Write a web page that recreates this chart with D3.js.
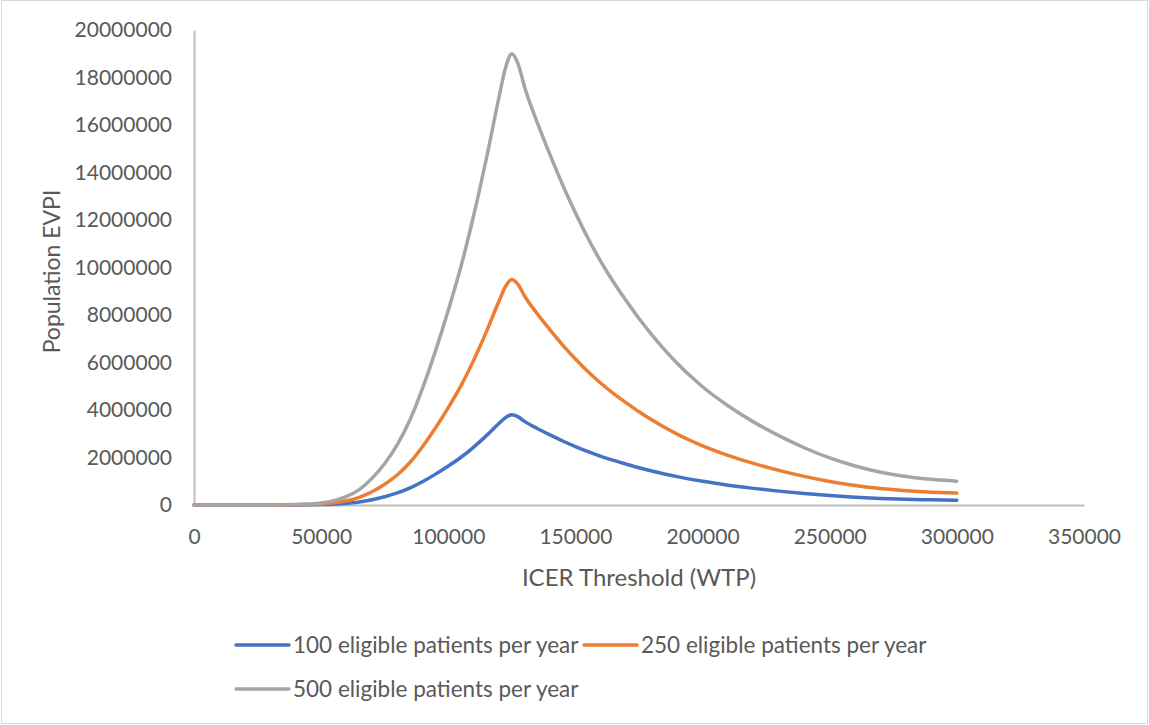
<!DOCTYPE html>
<html>
<head>
<meta charset="utf-8">
<script src="https://cdn.jsdelivr.net/npm/d3@7/dist/d3.min.js"></script>
<style>
  html, body { margin: 0; padding: 0; background: #fff; }
  svg { display: block; }
  text { font-family: Lato, "Open Sans", sans-serif; fill: #595959; }
</style>
</head>
<body>
<svg id="chart" width="1149" height="725"></svg>
<script>
// ---- Data ----
const wtp = [0,5000,10000,15000,20000,25000,30000,35000,40000,45000,50000,55000,60000,65000,70000,75000,80000,85000,90000,95000,100000,105000,110000,115000,120000,122500,125000,127500,130000,135000,140000,145000,150000,155000,160000,165000,170000,175000,180000,185000,190000,195000,200000,210000,220000,230000,240000,250000,260000,270000,280000,290000,300000];

const evpi100 = [0,0,0,0,0,400,1000,2000,4000,8000,16000,36000,72000,130000,224000,350000,510000,720000,990000,1300000,1640000,2010000,2440000,2920000,3440000,3680000,3800000,3710000,3520000,3220000,2950000,2694000,2460000,2244000,2050000,1876000,1720000,1570000,1434000,1308000,1194000,1090000,996000,836000,700000,584000,482000,396000,328000,276000,240000,216000,200000];

const evpi250 = [0,0,0,0,0,1000,2500,5000,10000,20000,40000,90000,180000,325000,560000,875000,1275000,1800000,2475000,3250000,4100000,5025000,6100000,7300000,8600000,9200000,9500000,9275000,8800000,8050000,7375000,6735000,6150000,5610000,5125000,4690000,4300000,3925000,3585000,3270000,2985000,2725000,2490000,2090000,1750000,1460000,1205000,990000,820000,690000,600000,540000,500000];

const evpi500 = [0,0,0,0,0,2000,5000,10000,20000,40000,80000,180000,360000,650000,1120000,1750000,2550000,3600000,4950000,6500000,8200000,10050000,12200000,14600000,17200000,18400000,19000000,18550000,17600000,16100000,14750000,13470000,12300000,11220000,10250000,9380000,8600000,7850000,7170000,6540000,5970000,5450000,4980000,4180000,3500000,2920000,2410000,1980000,1640000,1380000,1200000,1080000,1000000];

const seriesNames = ["100 eligible patients per year", "250 eligible patients per year", "500 eligible patients per year"];
const seriesColors = ["#4472C4", "#ED7D31", "#A5A5A5"];
const xTicks = [0,50000,100000,150000,200000,250000,300000,350000];
const yTicks = [0,2000000,4000000,6000000,8000000,10000000,12000000,14000000,16000000,18000000,20000000];
const xTitle = "ICER Threshold (WTP)";
const yTitle = "Population EVPI";

// ---- Layout ----
const W = 1149, H = 725;
const plot = { left: 194, right: 1084, top: 30, bottom: 505 };

const svg = d3.select("#chart");

// chart area border
svg.append("rect")
  .attr("x", 1.5).attr("y", 0.5)
  .attr("width", W - 3).attr("height", H - 2)
  .attr("fill", "#fff").attr("stroke", "#d9d9d9").attr("stroke-width", 1);

const x = d3.scaleLinear().domain([0, 350000]).range([plot.left, plot.right]);
const y = d3.scaleLinear().domain([0, 20000000]).range([plot.bottom, plot.top]);

// axes
const yAxis = svg.append("g")
  .attr("transform", `translate(${plot.left},0)`)
  .call(d3.axisLeft(y).tickValues(yTicks).tickSize(0).tickPadding(22).tickFormat(d3.format("d")));
const xAxis = svg.append("g")
  .attr("transform", `translate(0,${plot.bottom})`)
  .call(d3.axisBottom(x).tickValues(xTicks).tickSize(0).tickPadding(24).tickFormat(d3.format("d")));

[xAxis, yAxis].forEach(g => {
  g.select(".domain").attr("stroke", "#bfbfbf").attr("stroke-width", 2);
  g.selectAll(".tick text").attr("font-family", "Lato, 'Open Sans', sans-serif").attr("font-size", 21).attr("fill", "#595959");
});

// lines
const series = [evpi100, evpi250, evpi500];
const line = d3.line()
  .x((d, i) => x(wtp[i]))
  .y(d => y(d))
  .curve(d3.curveMonotoneX);

series.forEach((vals, k) => {
  svg.append("path")
    .datum(vals)
    .attr("d", line)
    .attr("fill", "none")
    .attr("stroke", seriesColors[k])
    .attr("stroke-width", 3.5)
    .attr("stroke-linejoin", "round")
    .attr("stroke-linecap", "round");
});

// axis titles
svg.append("text")
  .attr("x", (plot.left + plot.right) / 2)
  .attr("y", 586)
  .attr("text-anchor", "middle")
  .attr("font-size", 24)
  .text(xTitle);

svg.append("text")
  .attr("transform", `translate(60,${(plot.top + plot.bottom) / 2 + 4}) rotate(-90)`)
  .attr("text-anchor", "middle")
  .attr("font-size", 23)
  .text(yTitle);

// legend
const legendPos = [
  { sx: 236, y: 645 },
  { sx: 584, y: 645 },
  { sx: 236, y: 689 }
];
seriesNames.forEach((name, k) => {
  const p = legendPos[k];
  svg.append("line")
    .attr("x1", p.sx).attr("x2", p.sx + 53)
    .attr("y1", p.y).attr("y2", p.y)
    .attr("stroke", seriesColors[k])
    .attr("stroke-width", 3.5)
    .attr("stroke-linecap", "round");
  svg.append("text")
    .attr("x", p.sx + 57)
    .attr("y", p.y + 8)
    .attr("font-size", 22.5)
    .text(name);
});
</script>
</body>
</html>
